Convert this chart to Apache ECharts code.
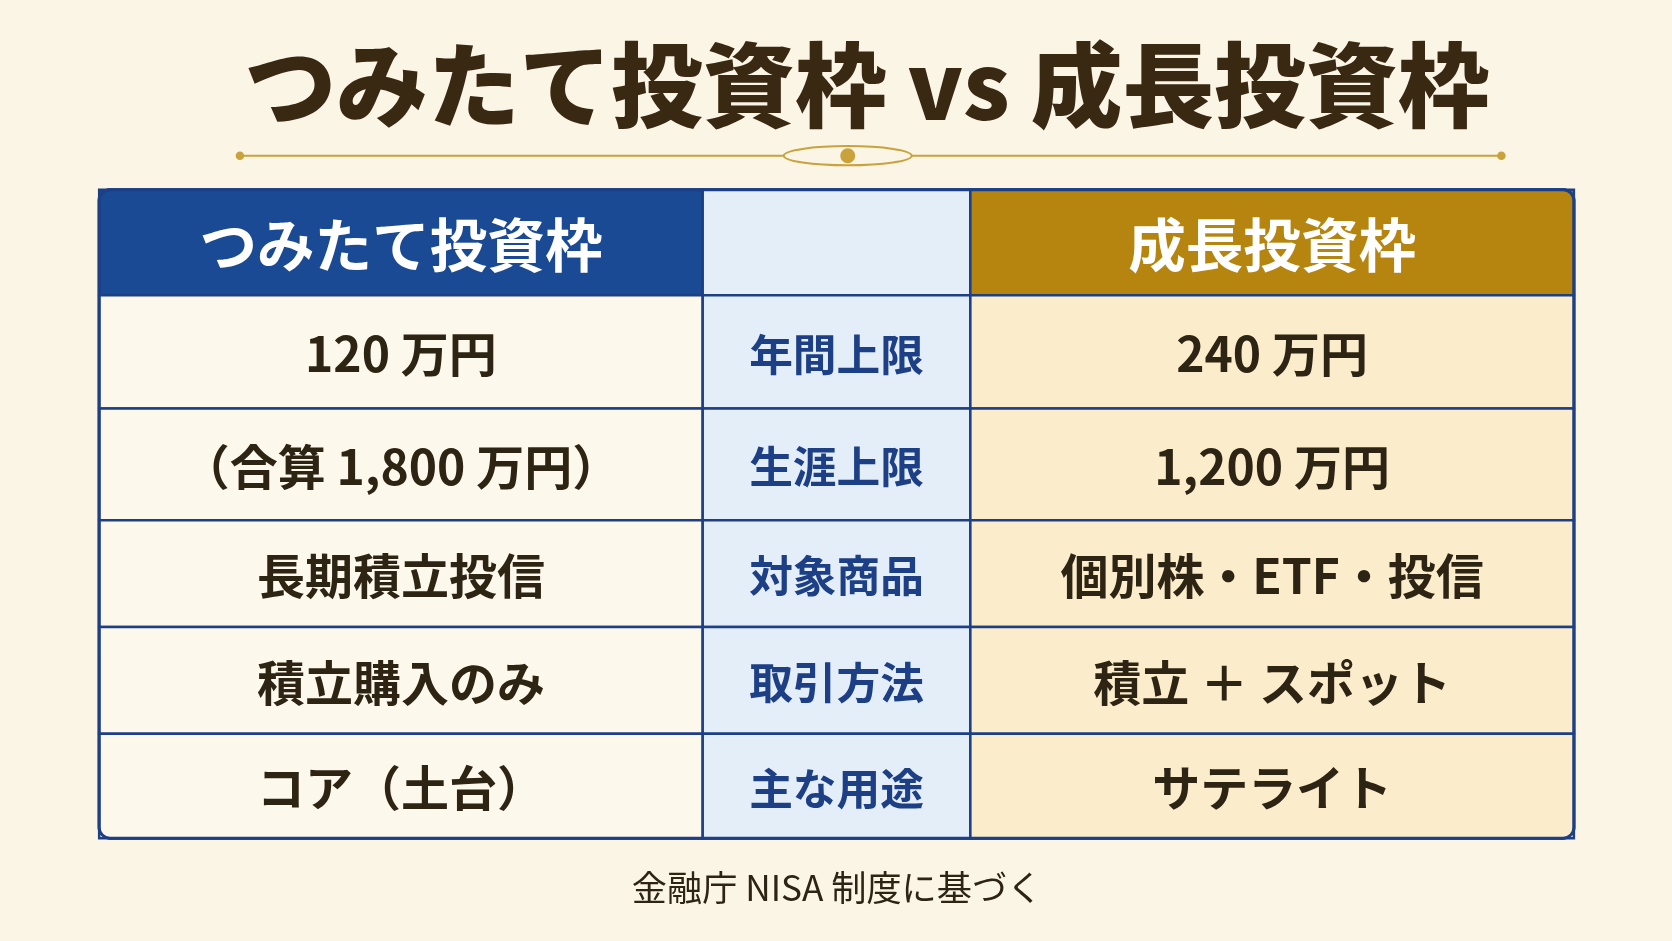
<!DOCTYPE html>
<html><head><meta charset="utf-8">
<script src="https://cdn.jsdelivr.net/npm/echarts@6/dist/echarts.min.js"></script>
<style>html,body{margin:0;padding:0;background:#fbf5e6}#c{width:1672px;height:941px}</style>
</head><body><div id="c"></div>
<script>
var titleText = 'つみたて投資枠 vs 成長投資枠';
var headers = ['つみたて投資枠', '', '成長投資枠'];
var leftValues = ['120 万円', '（合算 1,800 万円）', '長期積立投信', '積立購入のみ', 'コア（土台）'];
var categories = ['年間上限', '生涯上限', '対象商品', '取引方法', '主な用途'];
var rightValues = ['240 万円', '1,200 万円', '個別株・ETF・投信', '積立 ＋ スポット', 'サテライト'];
var footnote = '金融庁 NISA 制度に基づく';

var s = 1672 / 1568;
var font = '"Noto Sans CJK JP", sans-serif';
var colX = [93, 659, 910, 1476];
var rowY = [178, 277, 383, 488, 588, 688, 786];
var fills = [['#1a4a94', '#e3eef9', '#b5850f'], ['#fdf8ec', '#e3eef9', '#fbeccb']];
var g = [];

function R(x, y, w, h, fill) {
  g.push({type: 'rect', shape: {x: x * s, y: y * s, width: w * s, height: h * s},
    style: {fill: fill, stroke: '#1c3f85', lineWidth: 2.5}});
}
function T(txt, x, y, size, color, weight) {
  g.push({type: 'text', x: x * s, y: y * s,
    style: {text: txt, fill: color, font: (weight || 'bold') + ' ' + size * s + 'px ' + font,
      textAlign: 'center', textVerticalAlign: 'middle'}});
}

T(titleText, 813, 80, 86, '#3a2912', '900');
g.push({type: 'line', shape: {x1: 225 * s, y1: 146 * s, x2: 1408 * s, y2: 146 * s}, style: {stroke: '#c9a23c', lineWidth: 2}});
g.push({type: 'circle', shape: {cx: 225 * s, cy: 146 * s, r: 4 * s}, style: {fill: '#c9a23c'}});
g.push({type: 'circle', shape: {cx: 1408 * s, cy: 146 * s, r: 4 * s}, style: {fill: '#c9a23c'}});
g.push({type: 'ellipse', shape: {cx: 795 * s, cy: 146 * s, rx: 60 * s, ry: 9 * s}, style: {fill: '#fbf5e6', stroke: '#c9a23c', lineWidth: 2}});
g.push({type: 'circle', shape: {cx: 795 * s, cy: 146 * s, r: 7 * s}, style: {fill: '#c9a23c'}});

g.push({type: 'rect', shape: {x: colX[0] * s, y: rowY[0] * s, width: (colX[3] - colX[0]) * s, height: (rowY[6] - rowY[0]) * s, r: 10 * s},
  style: {fill: '#fdf8ec', stroke: '#1c3f85', lineWidth: 3}});

var cols = [leftValues, categories, rightValues];
for (var r = 0; r < 6; r++) {
  for (var c = 0; c < 3; c++) {
    var x = colX[c], w = colX[c + 1] - colX[c], y = rowY[r], h = rowY[r + 1] - rowY[r];
    R(x, y, w, h, fills[r === 0 ? 0 : 1][c]);
    var txt = r === 0 ? headers[c] : cols[c][r - 1];
    var color = r === 0 ? '#ffffff' : (c === 1 ? '#1c3f85' : '#2e2414');
    var size = r === 0 ? 54 : (c === 1 ? 41 : 45);
    T(txt, x + w / 2, y + h / 2 + 2, size, color);
  }
}
g.push({type: 'rect', shape: {x: colX[0] * s, y: rowY[0] * s, width: (colX[3] - colX[0]) * s, height: (rowY[6] - rowY[0]) * s, r: 10 * s},
  style: {fill: null, stroke: '#1c3f85', lineWidth: 3}});

T(footnote, 785, 832, 33, '#2e2414', 'normal');

var chart = echarts.init(document.getElementById('c'));
chart.setOption({backgroundColor: '#fbf5e6', graphic: g});
</script></body></html>
